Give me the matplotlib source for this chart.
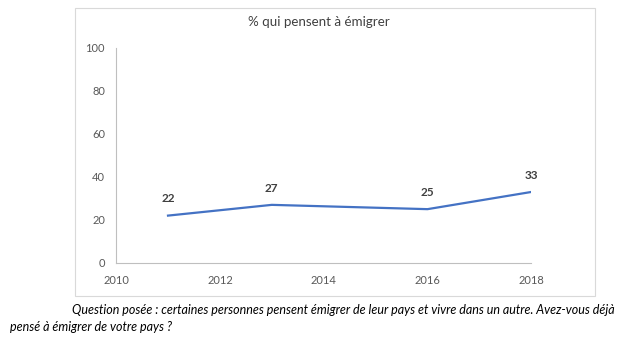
import matplotlib.pyplot as plt
from matplotlib.patches import Rectangle

# Données
annees = [2011, 2013, 2016, 2018]
pourcentages = [22, 27, 25, 33]
xticks = [2010, 2012, 2014, 2016, 2018]
yticks = [0, 20, 40, 60, 80, 100]

plt.rcParams['font.family'] = ['Lato', 'DejaVu Sans']

fig = plt.figure(figsize=(6.31, 3.45), dpi=100)
ax = fig.add_axes([0.184, 0.238, 0.658, 0.623])

# Cadre du graphique
fig.patches.append(Rectangle((75 / 631, 1 - 296 / 345), 520 / 631, 288 / 345,
                             transform=fig.transFigure, fill=False,
                             edgecolor='#d9d9d9', linewidth=0.8))

ax.plot(annees, pourcentages, color='#4472c4', linewidth=1.6)

for x, y in zip(annees, pourcentages):
    ax.annotate(f'{y}', xy=(x, y), xytext=(0, 8), textcoords='offset points',
                ha='center', va='bottom', fontsize=8.5, fontweight='bold',
                color='#404040')

ax.set_xlim(2010, 2018)
ax.set_ylim(0, 100)
ax.set_xticks(xticks)
ax.set_yticks(yticks)
ax.tick_params(length=0, labelsize=8, colors='#595959', pad=8)
ax.tick_params(axis='x', pad=9)

for side in ['top', 'right']:
    ax.spines[side].set_visible(False)
for side in ['left', 'bottom']:
    ax.spines[side].set_color('#bfbfbf')
    ax.spines[side].set_linewidth(0.8)

fig.text(0.505, 1 - 22 / 345, '% qui pensent à émigrer', ha='center', va='center',
         fontsize=9.6, color='#404040')

fig.text(72 / 631, 1 - 310 / 345,
         "Question posée : certaines personnes pensent émigrer de leur pays et vivre dans un autre. Avez-vous déjà",
         ha='left', va='center', fontsize=9, style='italic', color='black')
fig.text(10 / 631, 1 - 327 / 345, "pensé à émigrer de votre pays ?",
         ha='left', va='center', fontsize=9, style='italic', color='black')

fig.savefig('out.png', dpi=100)
